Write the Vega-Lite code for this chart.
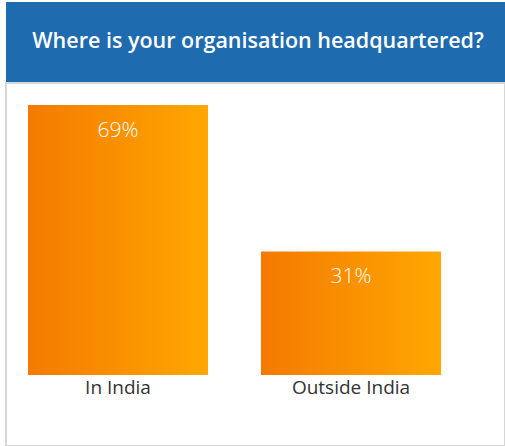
{
  "$schema": "https://vega.github.io/schema/vega-lite/v6.json",
  "padding": {"left": 5, "top": 2, "right": 0, "bottom": 0},
  "background": "white",
  "spacing": 0,
  "config": {"font": "Open Sans", "concat": {"spacing": 0}},
  "datasets": {
    "answers": [
      {"location": "In India", "share": 68.6, "label": "69%"},
      {"location": "Outside India", "share": 31.4, "label": "31%"}
    ]
  },
  "vconcat": [
    {
      "width": 499,
      "height": 80,
      "view": {"fill": "#1f6bb0", "stroke": null},
      "data": {"values": [{"title": "Where is your organisation headquartered?", "col": 0.505, "row": 0.5}]},
      "mark": {
        "type": "text",
        "align": "center",
        "baseline": "middle",
        "font": "Open Sans",
        "fontSize": 21.5,
        "fontWeight": 600,
        "color": "white"
      },
      "encoding": {
        "text": {"field": "title"},
        "x": {"field": "col", "type": "quantitative", "scale": {"domain": [0, 1]}, "axis": null},
        "y": {"field": "row", "type": "quantitative", "scale": {"domain": [0, 1]}, "axis": null}
      }
    },
    {
      "width": 499,
      "height": 363,
      "view": {"stroke": "#d6d6d6", "strokeWidth": 2},
      "data": {"name": "answers"},
      "encoding": {
        "x": {
          "field": "location",
          "type": "nominal",
          "sort": null,
          "scale": {"range": [0, 457], "paddingInner": 0.2275, "paddingOuter": 0.0944},
          "axis": {
            "title": null,
            "orient": "bottom",
            "offset": -71,
            "domain": false,
            "ticks": false,
            "labelAngle": 0,
            "labelPadding": 3,
            "labelFont": "Open Sans",
            "labelFontSize": 19,
            "labelColor": "#333333"
          }
        },
        "y": {
          "field": "share",
          "type": "quantitative",
          "scale": {"domain": [-18.04, 74.19], "nice": false, "zero": false},
          "axis": null
        }
      },
      "layer": [
        {
          "mark": {
            "type": "bar",
            "color": {
              "gradient": "linear",
              "x1": 0, "y1": 0, "x2": 1, "y2": 0,
              "stops": [
                {"offset": 0, "color": "#f47a00"},
                {"offset": 1, "color": "#ffa700"}
              ]
            }
          },
          "encoding": {"y2": {"datum": 0}}
        },
        {
          "mark": {
            "type": "text",
            "baseline": "top",
            "dy": 15,
            "font": "Open Sans",
            "fontSize": 21,
            "fontWeight": 300,
            "color": "white"
          },
          "encoding": {"text": {"field": "label"}}
        }
      ]
    }
  ]
}
